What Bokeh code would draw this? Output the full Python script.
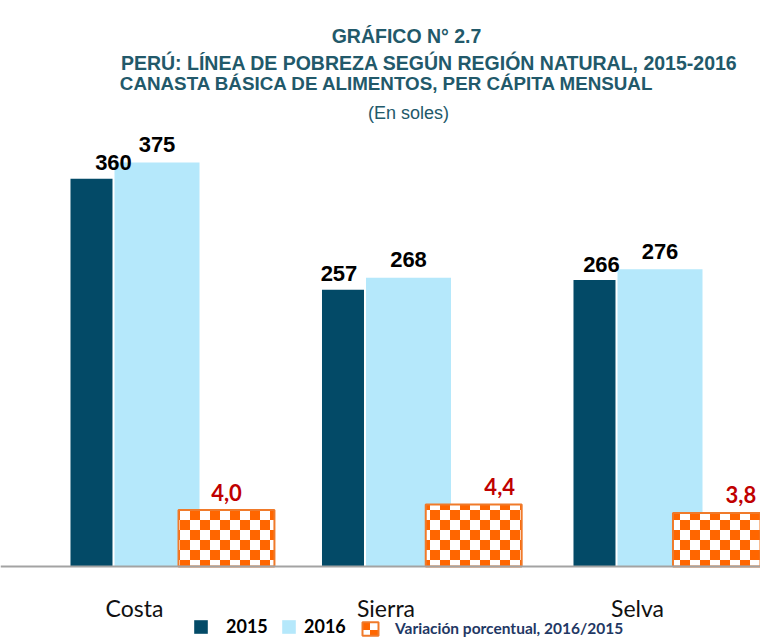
import zlib
import struct
import base64

from bokeh.plotting import figure
from bokeh.models import (Range1d, Span, Label, Legend, LegendItem,
                          ColumnDataSource, ImageURLTexture)
from bokeh.core.properties import value
from bokeh.embed import file_html
from bokeh.resources import INLINE

# ---------------- data ----------------
categories = ["Costa", "Sierra", "Selva"]
values_2015 = [360, 257, 266]
values_2016 = [375, 268, 276]
variation = [4.0, 4.4, 3.8]          # variación porcentual 2016/2015

# label nudges (screen px) to mimic the original label placement
label_dx_2015 = [22, -4, 7]
label_dx_var = [0, 26, 20]

# ---------------- styles ----------------
C15 = "#034a67"
C16 = "#b5e8fb"
TITLE_C = "#22596a"
SANS = "Liberation Sans"

# bar geometry, in category units (1 category = 1.0)
OFF15, W15 = -0.171, 0.167
OFF16, W16 = 0.0895, 0.338
WV = 0.388            # variation bars live on their own (secondary) x scale


# ---------------- checkerboard texture (orange / white tile) ----------------
def checker_png(sq=10, fg=(255, 102, 0), bg=(255, 255, 255)):
    n = 2 * sq
    rows = []
    for yy in range(n):
        row = bytearray()
        for xx in range(n):
            c = fg if ((xx // sq) + (yy // sq)) % 2 == 0 else bg
            row += bytes(c) + b"\xff"
        rows.append(b"\x00" + bytes(row))
    raw = b"".join(rows)

    def chunk(t, d):
        return (struct.pack(">I", len(d)) + t + d +
                struct.pack(">I", zlib.crc32(t + d) & 0xffffffff))
    data = (b"\x89PNG\r\n\x1a\n" +
            chunk(b"IHDR", struct.pack(">IIBBBBB", n, n, 8, 6, 0, 0, 0)) +
            chunk(b"IDAT", zlib.compress(raw)) + chunk(b"IEND", b""))
    return "data:image/png;base64," + base64.b64encode(data).decode()


checker = ImageURLTexture(url=checker_png(), repetition="repeat")

idx = list(range(len(categories)))
src = ColumnDataSource(dict(
    cat=categories,
    xc=idx,
    x15=[i + OFF15 for i in idx],
    x16=[i + OFF16 for i in idx],
    v15=values_2015,
    v16=values_2016,
    var=variation,
    t15=[str(v) for v in values_2015],
    t16=[str(v) for v in values_2016],
    tv=[f"{v:.1f}".replace(".", ",") for v in variation],
    dx15=label_dx_2015,
    dxv=label_dx_var,
))

p = figure(width=760, height=638, output_backend="svg", toolbar_location=None,
           x_range=Range1d(-0.5328, 2.4891), y_range=Range1d(-66.85, 525.53),
           x_axis_location=None, y_axis_location=None, min_border=0)
p.extra_y_ranges = {"var": Range1d(-5.106, 40.142)}
p.extra_x_ranges = {"var": Range1d(-0.914, 2.160)}
p.grid.visible = False
p.outline_line_color = None
p.background_fill_color = "white"

r15 = p.vbar(x="x15", top="v15", bottom=0, width=W15, source=src,
             fill_color=C15, line_color=None)
r16 = p.vbar(x="x16", top="v16", bottom=0, width=W16, source=src,
             fill_color=C16, line_color=None)
rv = p.vbar(x="xc", top="var", bottom=0, width=WV, source=src,
            x_range_name="var", y_range_name="var",
            fill_color="white", line_color="#f07a2a", line_width=2,
            hatch_pattern=value("checker"), hatch_extra={"checker": checker},
            hatch_color="#ff6600")

p.add_layout(Span(location=0, dimension="width", line_color="#a3a3a3", line_width=2))

# value labels
p.text(x="x15", y="v15", text="t15", source=src, x_offset="dx15", y_offset=-16,
       text_align="center", text_baseline="alphabetic",
       text_font=value(SANS), text_font_size="22px", text_font_style="bold",
       text_color="black")
p.text(x="x16", y="v16", text="t16", source=src, y_offset=-18,
       text_align="center", text_baseline="alphabetic",
       text_font=value(SANS), text_font_size="22px", text_font_style="bold",
       text_color="black")
p.text(x="xc", y="var", text="tv", source=src,
       x_range_name="var", y_range_name="var",
       x_offset="dxv", y_offset=-18,
       text_align="center", text_baseline="alphabetic",
       text_font=value("Lato"), text_font_size="22px", text_font_style="bold",
       text_color="#c00000")

# category labels
p.text(x="xc", y=0, text="cat", source=src, y_offset=41,
       text_align="center", text_baseline="alphabetic",
       text_font=value("Lato"), text_font_size="23px", text_color="#111111")

# titles
titles = [
    ("GRÁFICO N° 2.7", 406, 603, "19.5px", "bold"),
    ("PERÚ: LÍNEA DE POBREZA SEGÚN REGIÓN NATURAL, 2015-2016", 429, 576, "19.5px", "bold"),
    ("CANASTA BÁSICA DE ALIMENTOS, PER CÁPITA MENSUAL", 387, 555, "18.8px", "bold"),
    ("(En soles)", 408, 526, "18px", "normal"),
]
for t, x, y, fs, st in titles:
    p.add_layout(Label(x=x, y=y, x_units="screen", y_units="screen", text=t,
                       text_align="center", text_baseline="alphabetic",
                       text_font=SANS, text_font_size=fs, text_font_style=st,
                       text_color=TITLE_C))


# legends
def make_legend(label, rend, x, gw, standoff, size, color):
    return Legend(items=[LegendItem(label=label, renderers=[rend])],
                  location=(x, 1), orientation="horizontal",
                  glyph_width=gw, glyph_height=17, label_height=17,
                  label_standoff=standoff, padding=0, margin=0,
                  border_line_color=None, background_fill_alpha=0,
                  label_text_font="Lato", label_text_font_size=size,
                  label_text_font_style="bold", label_text_color=color)


p.add_layout(make_legend("2015", r15, 192, 17, 17, "18px", "black"))
p.add_layout(make_legend("2016", r16, 280, 17, 7, "18px", "black"))
p.add_layout(make_legend("Variación porcentual, 2016/2015", rv, 360, 20, 15,
                         "15.5px", "#1f3864"))

open("out.html", "w").write(file_html(p, INLINE))
